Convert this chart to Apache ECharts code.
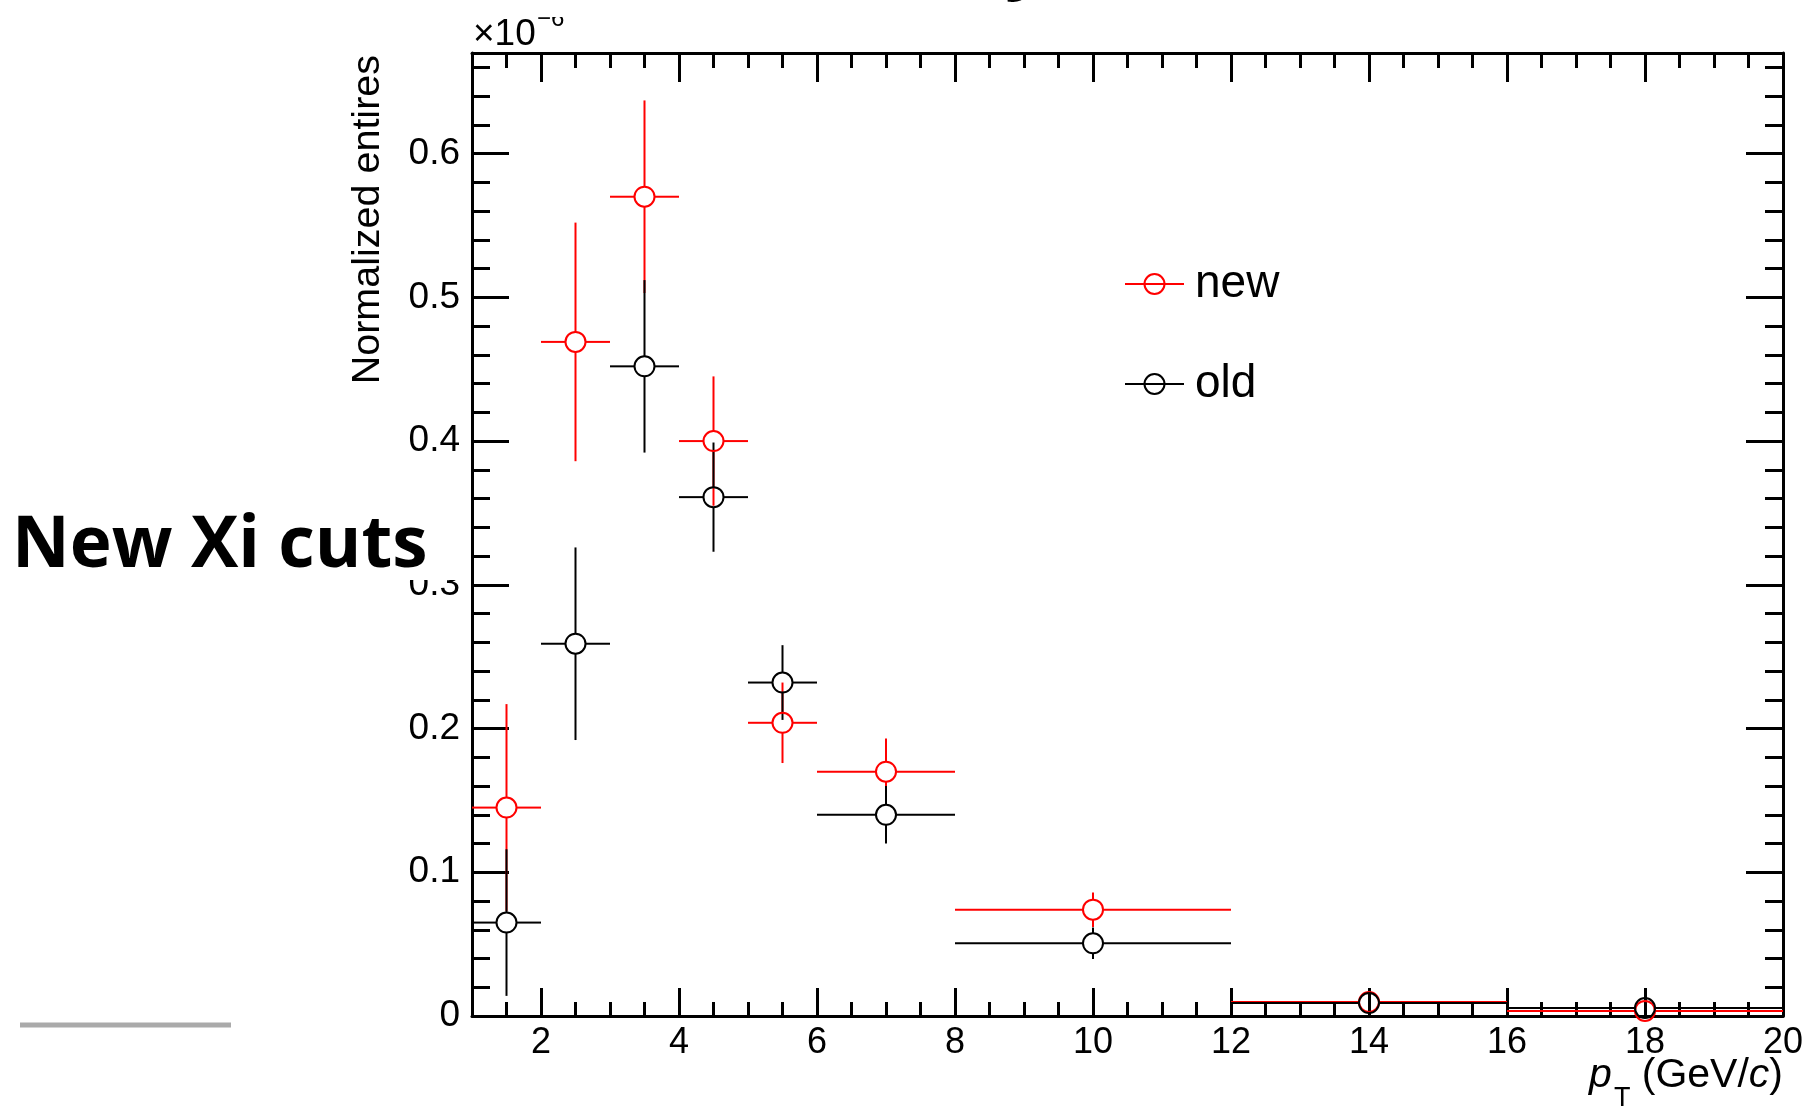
<!DOCTYPE html>
<html>
<head>
<meta charset="utf-8">
<script src="https://cdn.jsdelivr.net/npm/echarts@6.0.0/dist/echarts.min.js"></script>
<style>
  html, body { margin: 0; padding: 0; background: #ffffff; }
  #chart { width: 1803px; height: 1109px; }
</style>
</head>
<body>
<div id="chart"></div>
<script>
// ---- data (values in units of 1e-6) ----
const ptCenter = [1.5, 2.5, 3.5, 4.5, 5.5, 7, 10, 14, 18];
const ptLow    = [1, 2, 3, 4, 5, 6, 8, 12, 16];
const ptHigh   = [2, 3, 4, 5, 6, 8, 12, 16, 20];

const newVals = [0.145, 0.469, 0.570, 0.400, 0.204, 0.170, 0.074, 0.0098, 0.0035];
const newErrs = [0.072, 0.083, 0.067, 0.045, 0.028, 0.023, 0.012, 0.002, 0.0015];
const oldVals = [0.065, 0.259, 0.452, 0.361, 0.232, 0.140, 0.0506, 0.0090, 0.0055];
const oldErrs = [0.051, 0.067, 0.060, 0.038, 0.026, 0.020, 0.011, 0.002, 0.0015];

const xMajorTicks = [2, 4, 6, 8, 10, 12, 14, 16, 18, 20];
const xMinorTicks = [1.5, 2.5, 3, 3.5, 4.5, 5, 5.5, 6.5, 7, 7.5, 8.5, 9, 9.5, 10.5, 11, 11.5,
                     12.5, 13, 13.5, 14.5, 15, 15.5, 16.5, 17, 17.5, 18.5, 19, 19.5];
const yMajorTicks = [0, 0.1, 0.2, 0.3, 0.4, 0.5, 0.6];
const yMinorTicks = [0.02, 0.04, 0.06, 0.08, 0.12, 0.14, 0.16, 0.18, 0.22, 0.24, 0.26, 0.28,
                     0.32, 0.34, 0.36, 0.38, 0.42, 0.44, 0.46, 0.48, 0.52, 0.54, 0.56, 0.58,
                     0.62, 0.64, 0.66];

const X_MIN = 1, X_MAX = 20, Y_MIN = 0, Y_MAX = 0.67;
const RED = '#ff0000', BLACK = '#000000';
const FONT = '"Liberation Sans", Arial, Helvetica, sans-serif';

function errData(vals, errs) {
  return vals.map((v, i) => [ptCenter[i], v, errs[i], ptLow[i], ptHigh[i]]);
}
function markData(vals) {
  return vals.map((v, i) => [ptCenter[i], v]);
}

function makeErrRender(color) {
  const r = 10;
  return function (params, api) {
    const x = api.value(0), y = api.value(1), e = api.value(2), lo = api.value(3), hi = api.value(4);
    const c = api.coord([x, y]);
    const pl = api.coord([lo, y]), ph = api.coord([hi, y]);
    const pt = api.coord([x, y + e]), pb = api.coord([x, y - e]);
    const children = [];
    const seg = (x1, y1, x2, y2) => children.push({
      type: 'line', shape: { x1, y1, x2, y2 },
      style: { stroke: color, lineWidth: 2 }
    });
    if (c[0] - pl[0] > r) seg(pl[0], c[1], c[0] - r, c[1]);
    if (ph[0] - c[0] > r) seg(c[0] + r, c[1], ph[0], c[1]);
    if (c[1] - pt[1] > r) seg(c[0], pt[1], c[0], c[1] - r);
    if (pb[1] - c[1] > r) seg(c[0], c[1] + r, c[0], pb[1]);
    return { type: 'group', children };
  };
}

function xAxisDef(position, ticks, len, showLine, showLabel, extra) {
  return Object.assign({
    type: 'value', position, min: X_MIN, max: X_MAX,
    axisLine: { show: showLine, onZero: false, lineStyle: { color: '#000', width: 3 } },
    axisTick: { show: true, inside: true, length: len, customValues: ticks,
                lineStyle: { color: '#000', width: 3 } },
    axisLabel: showLabel
      ? { show: true, customValues: ticks, fontFamily: FONT, fontSize: 36, color: '#000', margin: 9 }
      : { show: false },
    splitLine: { show: false }
  }, extra || {});
}
function yAxisDef(position, ticks, len, showLine, showLabel) {
  return {
    type: 'value', position, min: Y_MIN, max: Y_MAX,
    axisLine: { show: showLine, onZero: false, lineStyle: { color: '#000', width: 3 } },
    axisTick: { show: true, inside: true, length: len, customValues: ticks,
                lineStyle: { color: '#000', width: 3 } },
    axisLabel: showLabel
      ? { show: true, customValues: ticks, fontFamily: FONT, fontSize: 37, color: '#000', margin: 12 }
      : { show: false },
    splitLine: { show: false }
  };
}

const chart = echarts.init(document.getElementById('chart'), null, { renderer: 'canvas' });

const option = {
  animation: false,
  backgroundColor: '#ffffff',
  grid: { left: 472, top: 53, width: 1311, height: 963, containLabel: false, outerBoundsMode: 'none' },
  xAxis: [
    xAxisDef('bottom', xMajorTicks, 28, true, true, {
      name: '{i|p}{sub|T} (GeV/{i|c})',
      nameLocation: 'end',
      nameGap: 0,
      nameMoveOverlap: false,
      nameTextStyle: {
        fontFamily: FONT, fontSize: 41, color: '#000',
        align: 'right', verticalAlign: 'top', padding: [23, 0, 0, 0],
        rich: {
          i: { fontFamily: FONT, fontSize: 41, fontStyle: 'italic', color: '#000' },
          sub: { fontFamily: FONT, fontSize: 27, color: '#000', padding: [46, 0, 0, 2] }
        }
      }
    }),
    xAxisDef('bottom', xMinorTicks, 14, false, false),
    xAxisDef('top', xMajorTicks, 29, true, false),
    xAxisDef('top', xMinorTicks, 15, false, false)
  ],
  yAxis: [
    yAxisDef('left', yMajorTicks, 37, true, true),
    yAxisDef('left', yMinorTicks, 18, false, false),
    yAxisDef('right', yMajorTicks, 37, true, false),
    yAxisDef('right', yMinorTicks, 18, false, false)
  ],
  legend: {
    orient: 'vertical',
    left: 1124, top: 261,
    padding: 0,
    itemWidth: 59, itemHeight: 25, itemGap: 54,
    textStyle: { fontFamily: FONT, fontSize: 46, color: '#000', padding: [0, 0, 0, 6] },
    selectedMode: false,
    data: [
      { name: 'new',
        lineStyle: { color: RED, width: 2, opacity: 1 },
        itemStyle: { color: 'transparent', borderColor: RED, borderWidth: 2 } },
      { name: 'old',
        lineStyle: { color: BLACK, width: 2, opacity: 1 },
        itemStyle: { color: 'transparent', borderColor: BLACK, borderWidth: 2 } }
    ]
  },
  series: [
    { type: 'custom', name: 'new-err', xAxisIndex: 0, yAxisIndex: 0, clip: true, silent: true,
      renderItem: makeErrRender(RED), data: errData(newVals, newErrs),
      encode: { x: 0, y: 1 } },
    { type: 'line', name: 'new', xAxisIndex: 0, yAxisIndex: 0, silent: true,
      data: markData(newVals), symbol: 'circle', symbolSize: 20, showSymbol: true,
      itemStyle: { color: 'transparent', borderColor: RED, borderWidth: 2 },
      lineStyle: { color: RED, width: 2, opacity: 0 },
      emphasis: { disabled: true } },
    { type: 'custom', name: 'old-err', xAxisIndex: 0, yAxisIndex: 0, clip: true, silent: true,
      renderItem: makeErrRender(BLACK), data: errData(oldVals, oldErrs),
      encode: { x: 0, y: 1 } },
    { type: 'line', name: 'old', xAxisIndex: 0, yAxisIndex: 0, silent: true,
      data: markData(oldVals), symbol: 'circle', symbolSize: 20, showSymbol: true,
      itemStyle: { color: 'transparent', borderColor: BLACK, borderWidth: 2 },
      lineStyle: { color: BLACK, width: 2, opacity: 0 },
      emphasis: { disabled: true } }
  ],
  graphic: [
    // rotated y-axis title
    { type: 'text', x: 368, y: 55, rotation: Math.PI / 2, z: 50,
      style: { text: 'Normalized entires', font: '39.5px ' + FONT, fill: '#000',
               align: 'right', verticalAlign: 'middle' } },
    // exponent
    { type: 'text', x: 473, y: 35, z: 50,
      style: { text: '×10', font: '37px ' + FONT, fill: '#000', align: 'left', verticalAlign: 'middle' } },
    { type: 'text', x: 537, y: 19, z: 50,
      style: { text: '−6', font: '24px ' + FONT, fill: '#000', align: 'left', verticalAlign: 'middle' } },
    { type: 'rect', shape: { x: 528, y: 0, width: 50, height: 17 }, z: 60,
      style: { fill: '#ffffff' } },
    // slide title fragment (cut off above)
    { type: 'text', x: 1005, y: -38, z: 50,
      style: { text: 'y', font: 'bold 76px "Open Sans", "Noto Sans", sans-serif', fill: '#000',
               align: 'left', verticalAlign: 'middle' } },
    // slide overlay label with its white box
    { type: 'rect', shape: { x: 0, y: 497, width: 462, height: 83 }, z: 99,
      style: { fill: '#ffffff' } },
    { type: 'text', x: 12, y: 547, z: 100,
      style: { text: 'New Xi cuts', font: 'bold 71px "Open Sans", "Noto Sans", sans-serif', fill: '#000',
               align: 'left', verticalAlign: 'middle' } },
    { type: 'line', z: 50, shape: { x1: 20, y1: 1025, x2: 231, y2: 1025 },
      style: { stroke: '#aaaaaa', lineWidth: 5 } }
  ]
};

chart.setOption(option);
</script>
</body>
</html>
